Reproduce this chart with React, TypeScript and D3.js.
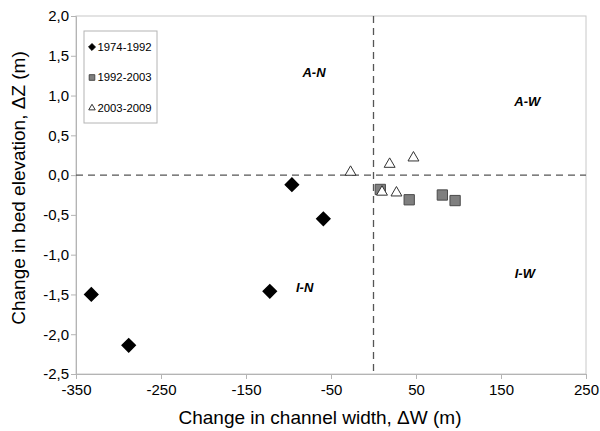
import { useEffect, useRef } from "react";
import * as d3 from "d3";

// 1974-1992 (diamonds)
const S1_X = [-332, -288, -122, -96, -59];
const S1_Y = [-1.5, -2.14, -1.46, -0.12, -0.55];
// 1992-2003 (squares)
const S2_X = [8, 42, 81, 96];
const S2_Y = [-0.18, -0.31, -0.25, -0.32];
// 2003-2009 (triangles)
const S3_X = [-27, 10, 27, 19, 47];
const S3_Y = [0.05, -0.2, -0.21, 0.15, 0.23];

const X_TICKS = [-350, -250, -150, -50, 50, 150, 250];
const Y_TICKS = [2, 1.5, 1, 0.5, 0, -0.5, -1, -1.5, -2, -2.5];
const SERIES_NAMES = ["1974-1992", "1992-2003", "2003-2009"];

const QUAD_LABELS = [
  { text: "A-N", x: -70, y: 1.29 },
  { text: "A-W", x: 181, y: 0.92 },
  { text: "I-N", x: -81, y: -1.41 },
  { text: "I-W", x: 178, y: -1.24 },
];

const FONT = "Liberation Sans, Arial, Helvetica, sans-serif";

export default function App() {
  const svgRef = useRef<SVGSVGElement>(null);

  useEffect(() => {
    if (!svgRef.current) return;
    const svg = d3.select(svgRef.current);
    svg.selectAll("*").remove();

    const margin = { top: 16, right: 14, bottom: 57, left: 76 };
    const W = 600, H = 431;
    const width = W - margin.left - margin.right;
    const height = H - margin.top - margin.bottom;

    const x = d3.scaleLinear().domain([-350, 250]).range([0, width]);
    const y = d3.scaleLinear().domain([-2.5, 2]).range([height, 0]);

    const g = svg.append("g").attr("transform", `translate(${margin.left},${margin.top})`);

    // frame
    g.append("rect")
      .attr("width", width)
      .attr("height", height)
      .attr("fill", "none")
      .attr("stroke", "#c8c8c8")
      .attr("stroke-width", 1);

    const fmt = (d: number) => d3.format(".1f")(d).replace(".", ",").replace("−", "-");

    const xAxis = g.append("g")
      .attr("transform", `translate(0,${height})`)
      .call(d3.axisBottom(x).tickValues(X_TICKS).tickSize(5).tickFormat(d => `${d}`));
    const yAxis = g.append("g")
      .call(d3.axisLeft(y).tickValues(Y_TICKS).tickSize(5).tickFormat(d => fmt(d as number)));

    [xAxis, yAxis].forEach(a => {
      a.select(".domain").attr("stroke", "#b4b4b4");
      a.selectAll(".tick line").attr("stroke", "#b4b4b4");
      a.selectAll("text")
        .attr("fill", "#000")
        .style("font-family", FONT)
        .style("font-size", "15px");
    });
    xAxis.selectAll("text").attr("y", 7).attr("dy", "0.9em");
    yAxis.selectAll("text").attr("x", -7);

    // quadrant dashed lines
    g.append("line")
      .attr("x1", 0).attr("x2", width)
      .attr("y1", y(0)).attr("y2", y(0))
      .attr("stroke", "#555").attr("stroke-width", 1.3)
      .attr("stroke-dasharray", "7,5");
    g.append("line")
      .attr("x1", x(0)).attr("x2", x(0))
      .attr("y1", 0).attr("y2", height)
      .attr("stroke", "#555").attr("stroke-width", 1.3)
      .attr("stroke-dasharray", "7,5");

    // quadrant labels
    g.selectAll(".quad")
      .data(QUAD_LABELS)
      .enter().append("text")
      .attr("x", d => x(d.x))
      .attr("y", d => y(d.y))
      .attr("text-anchor", "middle")
      .attr("dy", "0.35em")
      .style("font-family", FONT)
      .style("font-size", "13px")
      .style("font-weight", "bold")
      .style("font-style", "italic")
      .text(d => d.text);

    const diamond = d3.symbol().type(d3.symbolDiamond2).size(110);
    const square = d3.symbol().type(d3.symbolSquare2).size(135);
    const triangle = d3.symbol().type(d3.symbolTriangle2).size(85);

    // series 1
    g.selectAll(".s1")
      .data(S1_X.map((v, i) => [v, S1_Y[i]]))
      .enter().append("path")
      .attr("transform", d => `translate(${x(d[0])},${y(d[1])})`)
      .attr("d", diamond())
      .attr("fill", "#000")
      .attr("stroke", "#000")
      .attr("stroke-width", 1.5);

    // series 2
    g.selectAll(".s2")
      .data(S2_X.map((v, i) => [v, S2_Y[i]]))
      .enter().append("path")
      .attr("transform", d => `translate(${x(d[0])},${y(d[1])})`)
      .attr("d", square())
      .attr("fill", "#7f7f7f")
      .attr("stroke", "#4a4a4a")
      .attr("stroke-width", 1);

    // series 3
    g.selectAll(".s3")
      .data(S3_X.map((v, i) => [v, S3_Y[i]]))
      .enter().append("path")
      .attr("transform", d => `translate(${x(d[0])},${y(d[1]) + 1})`)
      .attr("d", triangle())
      .attr("fill", "#fff")
      .attr("stroke", "#333")
      .attr("stroke-width", 1);

    // legend
    const lg = svg.append("g").attr("transform", "translate(84,31)");
    lg.append("rect")
      .attr("width", 73).attr("height", 92)
      .attr("fill", "#fff")
      .attr("stroke", "#b4b4b4");
    const legendShapes = [
      { d: d3.symbol().type(d3.symbolDiamond2).size(30)(), fill: "#000", stroke: "#000" },
      { d: d3.symbol().type(d3.symbolSquare2).size(40)(), fill: "#7f7f7f", stroke: "#4a4a4a" },
      { d: d3.symbol().type(d3.symbolTriangle2).size(30)(), fill: "#fff", stroke: "#333" },
    ];
    const items = lg.selectAll(".li")
      .data(SERIES_NAMES)
      .enter().append("g")
      .attr("transform", (d, i) => `translate(0,${16 + i * 30.5})`);
    items.append("path")
      .attr("transform", "translate(8,0)")
      .attr("d", (d, i) => legendShapes[i].d)
      .attr("fill", (d, i) => legendShapes[i].fill)
      .attr("stroke", (d, i) => legendShapes[i].stroke);
    items.append("text")
      .attr("x", 13.5)
      .attr("dy", "0.35em")
      .style("font-family", FONT)
      .style("font-size", "11.3px")
      .text(d => d);

    // axis titles
    svg.append("text")
      .attr("x", 320)
      .attr("y", 424)
      .attr("text-anchor", "middle")
      .style("font-family", FONT)
      .style("font-size", "19px")
      .text("Change in channel width, ΔW (m)");
    svg.append("text")
      .attr("transform", `translate(25,188) rotate(-90)`)
      .attr("text-anchor", "middle")
      .style("font-family", FONT)
      .style("font-size", "19px")
      .text("Change in bed elevation, ΔZ (m)");
  }, []);

  return (
    <div style={{ position: "absolute", left: 0, top: 0 }}>
      <svg ref={svgRef} width={600} height={431} style={{ display: "block", background: "#fff" }} />
    </div>
  );
}
